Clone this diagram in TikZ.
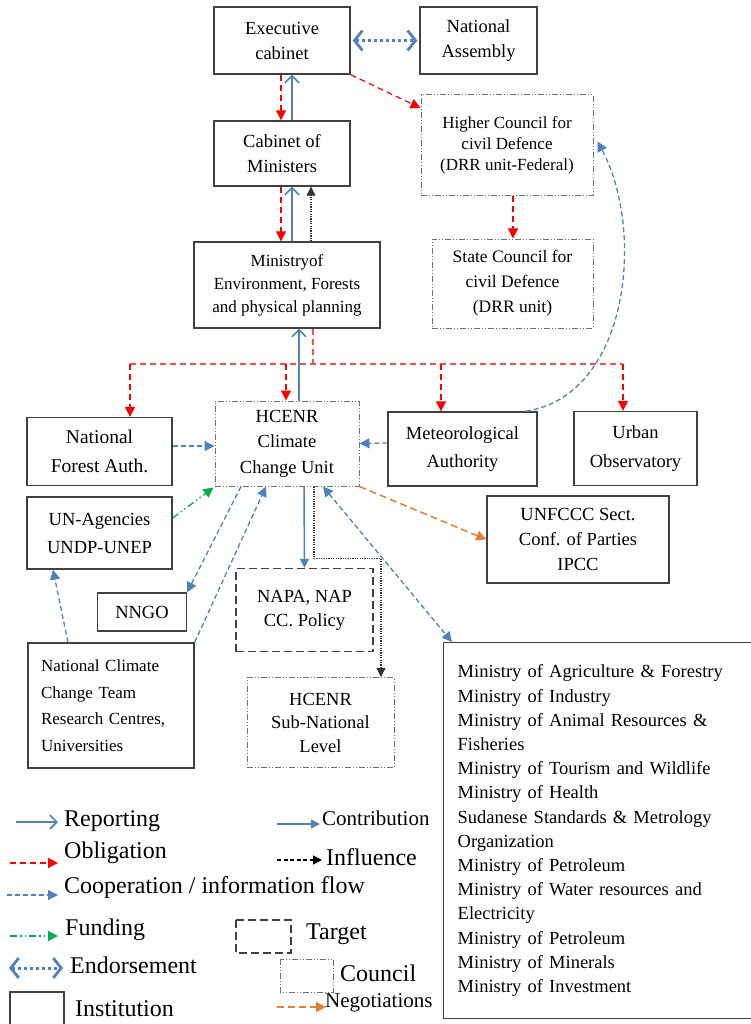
\documentclass[tikz,border=0pt]{standalone}
\usepackage{fontspec}
\setmainfont{Liberation Serif}
\usetikzlibrary{arrows.meta}
\definecolor{cblue}{HTML}{4F81BD}
\definecolor{cred}{HTML}{FF0000}
\definecolor{cgreen}{HTML}{00B050}
\definecolor{corange}{HTML}{E67E30}
\definecolor{cframe}{HTML}{404040}
\definecolor{cgray}{HTML}{707070}
\begin{document}
\begin{tikzpicture}[x=1pt,y=-1pt,
  every node/.style={inner sep=0pt, align=center, font=\fontsize{18.5}{25}\selectfont},
  inst/.style={draw=cframe, line width=1.4pt, rectangle},
  councilbox/.style={draw=cgray, line width=1pt, dash pattern=on 6pt off 2pt on 1pt off 2pt on 1pt off 2pt},
  targetbox/.style={draw=cframe, line width=1.4pt, dash pattern=on 8pt off 4pt},
  report/.style={cblue, line width=1.8pt, -{Straight Barb[length=7pt,width=14pt,line width=1.6pt]}},
  contrib/.style={cblue, line width=1.5pt, -{Triangle[length=9pt,width=9pt]}},
  oblig/.style={cred, line width=1.2pt, dash pattern=on 6pt off 4pt, -{Triangle[length=10pt,width=10pt]}},
  oblline/.style={cred!70, line width=1.2pt, dash pattern=on 6pt off 4pt},
  coop/.style={cblue, line width=1.3pt, dash pattern=on 5pt off 3pt, -{Triangle[length=10pt,width=10pt]}},
  coopboth/.style={cblue, line width=1.3pt, dash pattern=on 5pt off 3pt, {Triangle[length=10pt,width=10pt]}-{Triangle[length=10pt,width=10pt]}},
  fund/.style={cgreen, line width=1.3pt, dash pattern=on 7pt off 3pt on 1.5pt off 3pt on 1.5pt off 3pt, -{Triangle[length=10pt,width=10pt]}},
  infl/.style={black!80, line width=1.1pt, dash pattern=on 1.2pt off 1.2pt, -{Triangle[length=9pt,width=9pt]}},
  infllegend/.style={black, line width=1.3pt, dash pattern=on 4pt off 2.5pt, -{Triangle[length=9pt,width=9pt]}},
  endorse/.style={cblue, line width=3pt, dash pattern=on 3pt off 3pt, {Straight Barb[length=8pt,width=20pt,line width=2.8pt]}-{Straight Barb[length=8pt,width=20pt,line width=2.8pt]}},
  negot/.style={corange, line width=1.5pt, dash pattern=on 7pt off 4pt, -{Triangle[length=10pt,width=10pt]}},
  legtext/.style={anchor=west, font=\fontsize{24}{28}\selectfont},
  legsmall/.style={anchor=west, font=\fontsize{21}{24}\selectfont},
]
\useasboundingbox (0,0) rectangle (751,1024);

% ---------- nodes ----------
\node[inst, minimum width=136, minimum height=67] (exec) at (282,40.5) {Executive\\cabinet};
\node[inst, minimum width=117, minimum height=67] (na) at (478.5,40.5) {National\\Assembly};
\node[inst, minimum width=136, minimum height=65] (cab) at (282,153.5) {Cabinet of\\Ministers};
\node[inst, minimum width=186, minimum height=86, font=\fontsize{17}{23}\selectfont] (min) at (287,285) {Ministryof\\Environment, Forests\\and physical planning};
\node[councilbox, minimum width=172, minimum height=101, font=\fontsize{17}{21}\selectfont] (hc) at (507,145.5) {Higher Council for\\civil Defence\\(DRR unit-Federal)};
\node[councilbox, minimum width=161, minimum height=89, font=\fontsize{17.5}{25}\selectfont] (sc) at (512.5,283.5) {State Council for\\civil Defence\\(DRR unit)};
\node[councilbox, minimum width=144, minimum height=85, font=\fontsize{18.5}{25.5}\selectfont] (hcenr) at (287,443.5) {HCENR\\Climate\\Change Unit};
\node[inst, minimum width=145, minimum height=68, font=\fontsize{19.5}{29}\selectfont] (nfa) at (99.5,451.5) {National\\Forest Auth.};
\node[inst, minimum width=145, minimum height=72, font=\fontsize{18.5}{28}\selectfont] (un) at (99.5,533) {UN-Agencies\\UNDP-UNEP};
\node[inst, minimum width=89, minimum height=38] (nngo) at (142,612) {NNGO};
\node[targetbox, minimum width=137, minimum height=83, font=\fontsize{18.5}{24}\selectfont] (napa) at (304.5,610) {NAPA, NAP\\CC. Policy};
\node[councilbox, minimum width=147, minimum height=90, font=\fontsize{18.5}{23.5}\selectfont] (sub) at (320.5,722.5) {HCENR\\Sub-National\\Level};
\node[inst, minimum width=166, minimum height=125, text width=140, align=left, font=\fontsize{17}{26.5}\selectfont] (ncct) at (111,705.5) {National Climate\\Change Team\\Research Centres,\\Universities};
\node[inst, minimum width=149, minimum height=74, font=\fontsize{18.5}{28.5}\selectfont] (met) at (462.5,449) {Meteorological\\Authority};
\node[inst, minimum width=123, minimum height=74, font=\fontsize{18.5}{28.5}\selectfont] (urban) at (635.5,448.5) {Urban\\Observatory};
\node[inst, minimum width=182, minimum height=87, font=\fontsize{18.5}{25}\selectfont] (unfccc) at (578,539.5) {UNFCCC Sect.\\Conf. of Parties\\IPCC};
\node[inst, anchor=north west, minimum width=320, minimum height=376, text width=292, align=left, font=\fontsize{18.5}{24.2}\selectfont] (mins) at (443,642) {Ministry of Agriculture \& Forestry\\Ministry of Industry\\Ministry of Animal Resources \&\\Fisheries\\Ministry of Tourism and Wildlife\\Ministry of Health\\Sudanese Standards \& Metrology\\Organization\\Ministry of Petroleum\\Ministry of Water resources and\\Electricity\\Ministry of Petroleum\\Ministry of Minerals\\Ministry of Investment};

% ---------- connectors ----------
\draw[endorse] ([xshift=2]exec.east) -- ([xshift=-2]na.west);
\draw[oblig] (exec.south east) -- ([yshift=37.5]hc.west);
\draw[oblig] ([xshift=-1]exec.south) -- ([xshift=-1]cab.north);
\draw[report] ([xshift=10]cab.north) -- ([xshift=10]exec.south);
\draw[oblig] ([xshift=-1]cab.south) -- ([xshift=-6]min.north);
\draw[report] ([xshift=5]min.north) -- ([xshift=10]cab.south);
\draw[infl] ([xshift=24]min.north) -- ([xshift=29]cab.south);
\draw[oblig] ([xshift=6]hc.south) -- ([xshift=0.5]sc.north);
\draw[report] ([xshift=12]hcenr.north) -- ([xshift=12]min.south);

\coordinate (busT) at (313,364);
\coordinate (busL) at (130,364);
\coordinate (busR) at (623,364);
\coordinate (busH) at (286,364);
\coordinate (busM) at (441,364);
\draw[oblline] ([xshift=26]min.south) -- (busT);
\draw[oblline] (busL) -- (busR);
\draw[oblig] (busL) -- (busL |- nfa.north);
\draw[oblig] (busH) -- (busH |- hcenr.north);
\draw[oblig] (busM) -- (busM |- met.north);
\draw[oblig] (busR) -- (busR |- urban.north);

\draw[coop] ([xshift=-12]met.north east) .. controls (630,395) and (645,230) .. ([xshift=4,yshift=4]hc.east);
\draw[coop] ([yshift=5.5]nfa.east) -- ([yshift=-2.5]hcenr.west);
\draw[coop] ([yshift=6]met.west) -- (hcenr.east);
\draw[fund] ([yshift=15]un.east) -- ([xshift=-1,yshift=-1]hcenr.south west);
\draw[coop] ([xshift=-46]hcenr.south) -- (nngo.north east);
\draw[coop] (ncct.north east) -- ([xshift=-21]hcenr.south);
\draw[coop] ([xshift=-43]ncct.north) -- ([xshift=-46.5]un.south);
\draw[contrib] ([xshift=17]hcenr.south) -- (napa.north);
\draw[infl] ([xshift=27]hcenr.south) -- ++(0,72) -| ([xshift=60.5]sub.north);
\draw[coopboth] ([xshift=36]hcenr.south) -- ([xshift=9]mins.north west);
\draw[negot] (hcenr.south east) -- (unfccc.west);

% ---------- legend ----------
\draw[report] (16,822) -- (58,822);
\node[legtext] (lrep) at (64,821) {Reporting};
\draw[contrib] (277,824) -- (320,824);
\node[legsmall] (lcon) at (322,818) {Contribution};
\draw[oblig] (10,863) -- (58,863);
\node[legtext] (lobl) at (64,853) {Obligation};
\draw[infllegend] (277,860) -- (322,860);
\node[legtext] (linf) at (326,857) {Influence};
\draw[coop] (7,895) -- (58,895);
\node[legtext] (lcoop) at (64,888) {Cooperation / information flow};
\draw[fund] (10,936) -- (58,936);
\node[legtext] (lfund) at (65,930) {Funding};
\draw[targetbox] (236,920) rectangle (291,953);
\node[legtext] (ltar) at (306,934) {Target};
\draw[endorse] (9,968) -- (63,968);
\node[legtext] (lend) at (70,965) {Endorsement};
\draw[councilbox] (280,959) rectangle (333,992);
\node[legtext] (lcou) at (340,973) {Council};
\draw[inst] (10,992) rectangle (64,1030);
\node[legtext] (linst) at (75,1009) {Institution};
\draw[negot] (277,1007) -- (326,1007);
\node[legsmall] (lneg) at (325,1003) {Negotiations};
\end{tikzpicture}
\end{document}
